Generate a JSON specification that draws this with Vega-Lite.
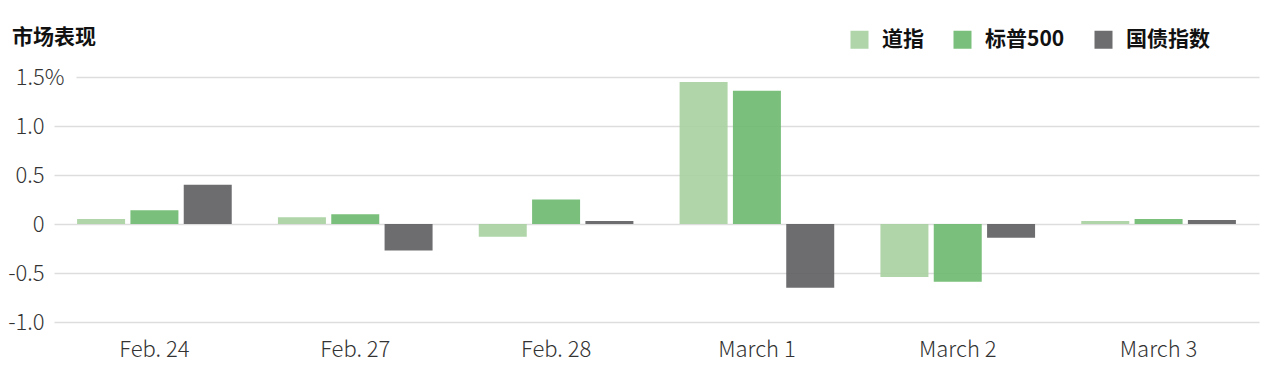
{
  "$schema": "https://vega.github.io/schema/vega-lite/v6.json",
  "width": 1205,
  "height": 245,
  "autosize": {"type": "none"},
  "padding": {"left": 54, "top": 77, "right": 12, "bottom": 54},
  "background": "white",
  "title": {
    "text": "市场表现",
    "anchor": "start",
    "frame": "group",
    "dx": -42,
    "offset": -30,
    "baseline": "middle",
    "fontSize": 21,
    "fontWeight": "bold",
    "font": "Noto Sans CJK SC",
    "color": "#111111"
  },
  "config": {
    "view": {"stroke": null},
    "font": "Noto Sans CJK SC"
  },
  "data": {
    "values": [
      {"date": "Feb. 24", "series": "道指", "value": 0.05},
      {"date": "Feb. 24", "series": "标普500", "value": 0.14},
      {"date": "Feb. 24", "series": "国债指数", "value": 0.40},
      {"date": "Feb. 27", "series": "道指", "value": 0.07},
      {"date": "Feb. 27", "series": "标普500", "value": 0.10},
      {"date": "Feb. 27", "series": "国债指数", "value": -0.27},
      {"date": "Feb. 28", "series": "道指", "value": -0.13},
      {"date": "Feb. 28", "series": "标普500", "value": 0.25},
      {"date": "Feb. 28", "series": "国债指数", "value": 0.03},
      {"date": "March 1", "series": "道指", "value": 1.45},
      {"date": "March 1", "series": "标普500", "value": 1.36},
      {"date": "March 1", "series": "国债指数", "value": -0.65},
      {"date": "March 2", "series": "道指", "value": -0.54},
      {"date": "March 2", "series": "标普500", "value": -0.59},
      {"date": "March 2", "series": "国债指数", "value": -0.14},
      {"date": "March 3", "series": "道指", "value": 0.03},
      {"date": "March 3", "series": "标普500", "value": 0.05},
      {"date": "March 3", "series": "国债指数", "value": 0.04}
    ]
  },
  "mark": {"type": "bar", "opacity": 0.9},
  "encoding": {
    "x": {
      "field": "date",
      "type": "nominal",
      "sort": ["Feb. 24", "Feb. 27", "Feb. 28", "March 1", "March 2", "March 3"],
      "scale": {"paddingInner": 0.23, "paddingOuter": 0.115},
      "axis": {
        "title": null,
        "labelAngle": 0,
        "domain": false,
        "ticks": false,
        "labelPadding": 17,
        "labelFontSize": 22,
        "labelFontWeight": 300,
        "labelColor": "#333333",
        "labelFont": "Noto Sans CJK SC"
      }
    },
    "xOffset": {
      "field": "series",
      "sort": ["道指", "标普500", "国债指数"],
      "scale": {"paddingInner": 0.1}
    },
    "y": {
      "field": "value",
      "type": "quantitative",
      "scale": {"domain": [-1, 1.5], "nice": false},
      "axis": {
        "title": null,
        "values": [-1, -0.5, 0, 0.5, 1, 1.5],
        "labelExpr": "datum.value == 1.5 ? '1.5%' : (datum.value == 0 ? '0' : (datum.value < 0 ? '-' + format(-datum.value, '.1f') : format(datum.value, '.1f')))",
        "domain": false,
        "ticks": false,
        "labelPadding": {"condition": {"test": "datum.value == 1.5", "value": -10}, "value": 10},
        "labelFontSize": 22,
        "labelFontWeight": 300,
        "labelColor": "#333333",
        "labelFont": "Noto Sans CJK SC",
        "gridColor": "#dddddd",
        "gridWidth": 1.5,
        "gridDash": {"condition": {"test": "datum.value == 1.5", "value": [0, 22, 2000]}, "value": []}
      }
    },
    "color": {
      "field": "series",
      "type": "nominal",
      "sort": ["道指", "标普500", "国债指数"],
      "scale": {
        "domain": ["道指", "标普500", "国债指数"],
        "range": ["#a6d09f", "#6cb86d", "#5d5d60"]
      },
      "legend": {
        "orient": "none",
        "legendX": 795,
        "legendY": -48,
        "direction": "horizontal",
        "title": null,
        "symbolType": "square",
        "symbolSize": 324,
        "symbolStrokeWidth": 0,
        "symbolOpacity": 0.9,
        "labelFont": "Noto Sans CJK SC",
        "labelFontSize": 21,
        "labelFontWeight": "bold",
        "labelColor": "#111111",
        "labelOffset": 12,
        "columnPadding": 28
      }
    }
  }
}
